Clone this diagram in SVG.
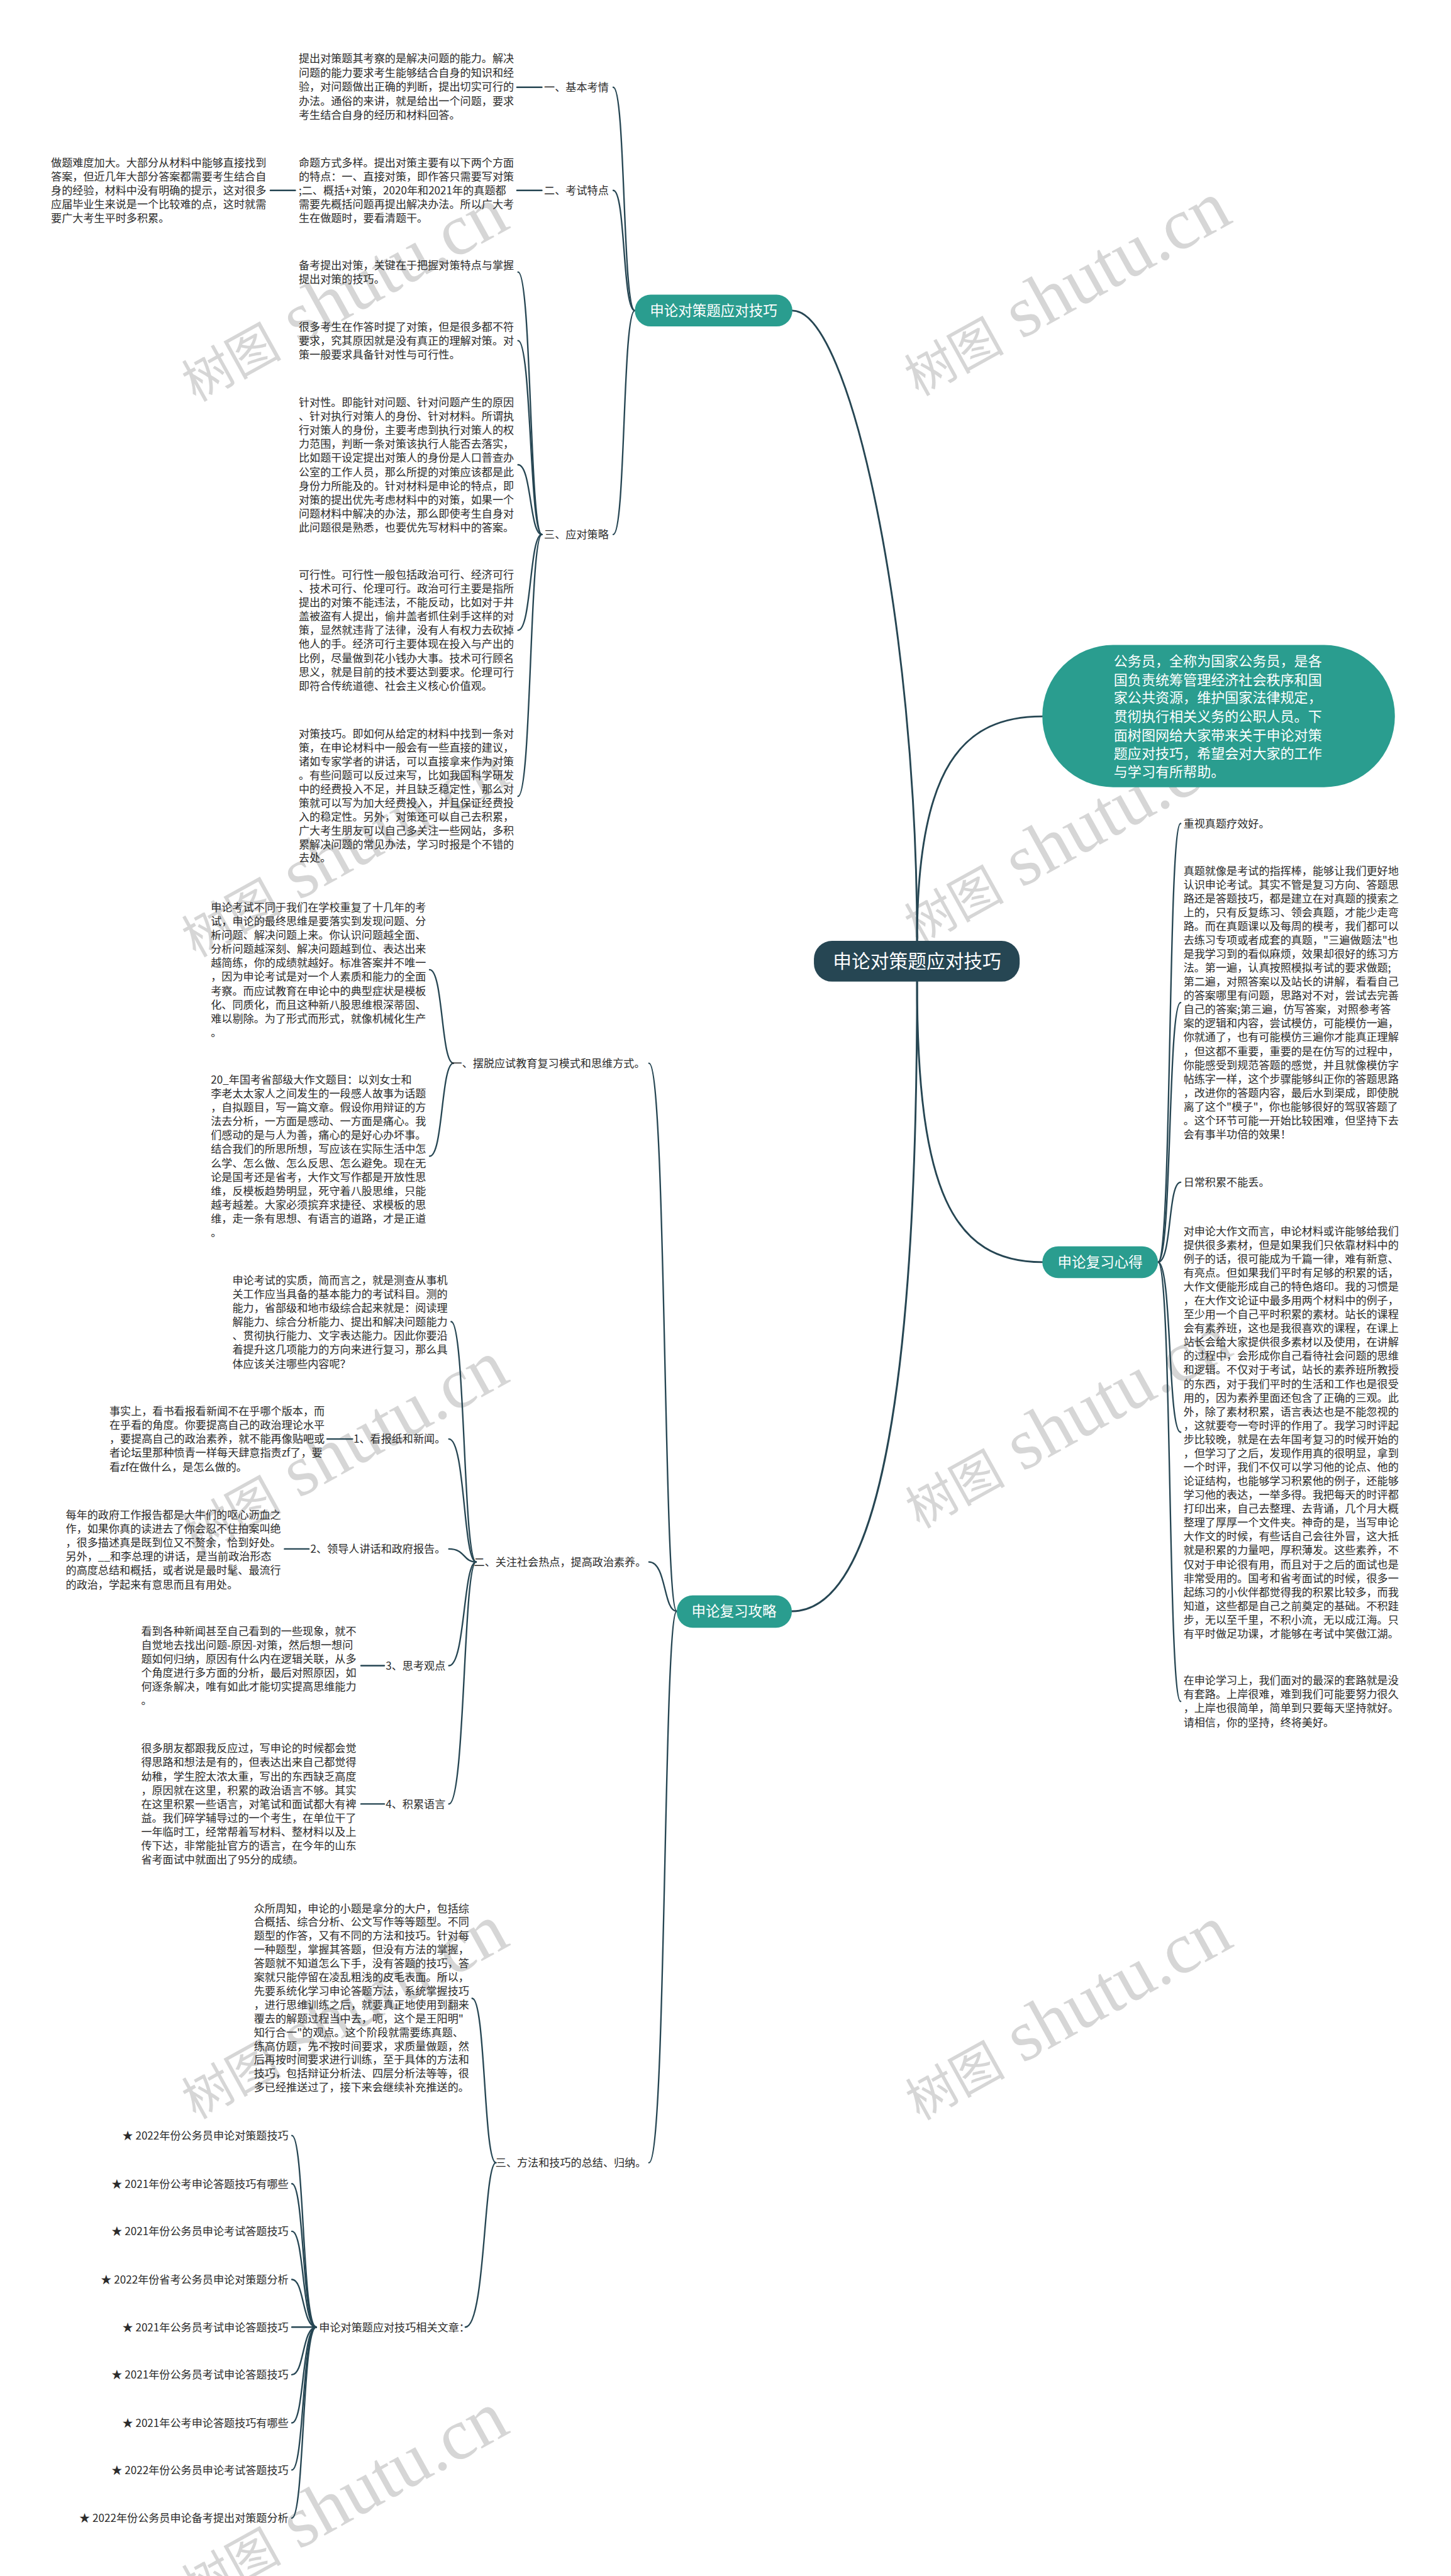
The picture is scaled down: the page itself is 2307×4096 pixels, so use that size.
<svg xmlns="http://www.w3.org/2000/svg" width="2307" height="4096" viewBox="0 0 2307 4096">
<style>
text{font-family:"Noto Sans CJK SC","Liberation Sans",sans-serif;}
.t{font-size:19px;fill:#2b2b2b;}
.e{text-anchor:end;}
.wm{font-family:"Liberation Serif","Noto Sans CJK SC",serif;fill:#d6d6d6;}
.wa{font-size:88px;}
.wb{font-size:128px;}
.m{fill:none;stroke:#264653;stroke-width:3.2;stroke-linecap:round;}
.c{fill:none;stroke:#264653;stroke-width:2.6;stroke-linecap:round;}
.teal{fill:#2a9d8f;}
.dark{fill:#264653;}
.nt{fill:#ffffff;text-anchor:middle;}
</style>
<rect width="2307" height="4096" fill="#ffffff"/>
<g transform="scale(0.90117)">
<g id="watermarks">
<text class="wm" transform="translate(345,710) rotate(-29)"><tspan class="wa">树图</tspan><tspan class="wb"> shutu.cn</tspan></text>
<text class="wm" transform="translate(345,1690) rotate(-29)"><tspan class="wa">树图</tspan><tspan class="wb"> shutu.cn</tspan></text>
<text class="wm" transform="translate(345,2745) rotate(-29)"><tspan class="wa">树图</tspan><tspan class="wb"> shutu.cn</tspan></text>
<text class="wm" transform="translate(345,3740) rotate(-29)"><tspan class="wa">树图</tspan><tspan class="wb"> shutu.cn</tspan></text>
<text class="wm" transform="translate(345,4600) rotate(-29)"><tspan class="wa">树图</tspan><tspan class="wb"> shutu.cn</tspan></text>
<text class="wm" transform="translate(1620,700) rotate(-29)"><tspan class="wa">树图</tspan><tspan class="wb"> shutu.cn</tspan></text>
<text class="wm" transform="translate(1620,1668) rotate(-29)"><tspan class="wa">树图</tspan><tspan class="wb"> shutu.cn</tspan></text>
<text class="wm" transform="translate(1622,2698) rotate(-29)"><tspan class="wa">树图</tspan><tspan class="wb"> shutu.cn</tspan></text>
<text class="wm" transform="translate(1622,3742) rotate(-29)"><tspan class="wa">树图</tspan><tspan class="wb"> shutu.cn</tspan></text>
</g>
<g id="connectors">
<path class="m" d="M1618,1660 C1618,1100 1500,548 1398,548"/>
<path class="m" d="M1618,1660 C1618,1350 1700,1264 1839,1264"/>
<path class="m" d="M1618,1732 C1618,2100 1680,2227 1839,2227"/>
<path class="m" d="M1618,1732 C1618,2500 1540,2843 1397,2843"/>
<path class="c" d="M1120,548 C1098,548 1104,154 1082,154"/>
<path class="c" d="M1120,548 C1098,548 1104,336 1082,336"/>
<path class="c" d="M1120,548 C1098,548 1104,943 1082,943"/>
<path class="c" d="M956,154 L912,154"/>
<path class="c" d="M956,336 L912,336"/>
<path class="c" d="M521,336 L477,336"/>
<path class="c" d="M956,943 C934,943 938,480 914,480"/>
<path class="c" d="M956,943 C934,943 938,601 914,601"/>
<path class="c" d="M956,943 C934,943 938,820 914,820"/>
<path class="c" d="M956,943 C934,943 938,1112 914,1112"/>
<path class="c" d="M956,943 C934,943 938,1405 914,1405"/>
<path class="c" d="M1194,2843 C1170,2843 1176,1876 1145,1876"/>
<path class="c" d="M1194,2843 C1170,2843 1176,2756 1145,2756"/>
<path class="c" d="M1194,2843 C1170,2843 1176,3816 1145,3816"/>
<path class="c" d="M800,1876 C778,1876 782,1711 758,1711"/>
<path class="c" d="M800,1876 C778,1876 782,2040 758,2040"/>
<path class="c" d="M840,2756 C817,2756 821,2332 796,2332"/>
<path class="c" d="M840,2756 C817,2756 821,2539 792,2539"/>
<path class="c" d="M840,2756 C817,2756 821,2733 792,2733"/>
<path class="c" d="M840,2756 C817,2756 821,2939 792,2939"/>
<path class="c" d="M840,2756 C817,2756 821,3183 792,3183"/>
<path class="c" d="M622,2539 L577,2539"/>
<path class="c" d="M545,2733 L502,2733"/>
<path class="c" d="M678,2939 L637,2939"/>
<path class="c" d="M678,3183 L637,3183"/>
<path class="c" d="M875,3816 C853,3816 857,3526 833,3526"/>
<path class="c" d="M875,3816 C853,3816 857,4106 821,4106"/>
<path class="c" d="M558,4106 C533,4106 537,3768 515,3768"/>
<path class="c" d="M558,4106 C533,4106 537,3853 515,3853"/>
<path class="c" d="M558,4106 C533,4106 537,3937 515,3937"/>
<path class="c" d="M558,4106 C533,4106 537,4022 515,4022"/>
<path class="c" d="M558,4106 L515,4106"/>
<path class="c" d="M558,4106 C533,4106 537,4190 515,4190"/>
<path class="c" d="M558,4106 C533,4106 537,4275 515,4275"/>
<path class="c" d="M558,4106 C533,4106 537,4358 515,4358"/>
<path class="c" d="M558,4106 C533,4106 537,4443 515,4443"/>
<path class="c" d="M2043,2227 C2068,2227 2060,1453 2083,1453"/>
<path class="c" d="M2043,2227 C2068,2227 2060,1769 2083,1769"/>
<path class="c" d="M2043,2227 C2068,2227 2060,2086 2083,2086"/>
<path class="c" d="M2043,2227 C2068,2227 2060,2527 2083,2527"/>
<path class="c" d="M2043,2227 C2068,2227 2060,3002 2083,3002"/>
</g>
<g id="root">
<rect class="dark" x="1436" y="1660" width="363" height="72" rx="32"/>
<text class="nt" x="1618" y="1708" font-size="33">申论对策题应对技巧</text>
</g>
<g id="intro">
<rect class="teal" x="1839" y="1138" width="622" height="251" rx="125"/>
<text font-size="24.5" fill="#ffffff">
<tspan x="1965" y="1175">公务员，全称为国家公务员，是各</tspan>
<tspan x="1965" y="1208">国负责统筹管理经济社会秩序和国</tspan>
<tspan x="1965" y="1240">家公共资源，维护国家法律规定，</tspan>
<tspan x="1965" y="1273">贯彻执行相关义务的公职人员。下</tspan>
<tspan x="1965" y="1306">面树图网给大家带来关于申论对策</tspan>
<tspan x="1965" y="1338">题应对技巧，希望会对大家的工作</tspan>
<tspan x="1965" y="1370">与学习有所帮助。</tspan>
</text>
</g>
<g id="branch-duice">
<rect class="teal" x="1120" y="520" width="278" height="56" rx="28"/>
<text class="nt" x="1259" y="557" font-size="25">申论对策题应对技巧</text>
</g>
<g id="branch-xinde">
<rect class="teal" x="1839" y="2199" width="204" height="56" rx="28"/>
<text class="nt" x="1941" y="2236" font-size="25">申论复习心得</text>
</g>
<g id="branch-gonglue">
<rect class="teal" x="1194" y="2815" width="203" height="57" rx="28"/>
<text class="nt" x="1295" y="2852" font-size="25">申论复习攻略</text>
</g>
<g id="lbl-jibenkaoqing"><text class="t" x="960" y="161">一、基本考情</text></g>
<g id="lbl-kaoshitedian"><text class="t" x="960" y="343">二、考试特点</text></g>
<g id="lbl-yingduicelue"><text class="t" x="960" y="950">三、应对策略</text></g>
<g id="txt-jiben">
<text class="t">
<tspan x="527" y="110">提出对策题其考察的是解决问题的能力。解决</tspan>
<tspan x="527" dy="25">问题的能力要求考生能够结合自身的知识和经</tspan>
<tspan x="527" dy="25">验，对问题做出正确的判断，提出切实可行的</tspan>
<tspan x="527" dy="25">办法。通俗的来讲，就是给出一个问题，要求</tspan>
<tspan x="527" dy="25">考生结合自身的经历和材料回答。</tspan>
</text>
</g>
<g id="txt-mingti">
<text class="t">
<tspan x="527" y="294">命题方式多样。提出对策主要有以下两个方面</tspan>
<tspan x="527" dy="24.3">的特点：一、直接对策，即作答只需要写对策</tspan>
<tspan x="527" dy="24.3">;二、概括+对策，2020年和2021年的真题都</tspan>
<tspan x="527" dy="24.3">需要先概括问题再提出解决办法。所以广大考</tspan>
<tspan x="527" dy="24.3">生在做题时，要看清题干。</tspan>
</text>
</g>
<g id="txt-nandu">
<text class="t">
<tspan x="90" y="294">做题难度加大。大部分从材料中能够直接找到</tspan>
<tspan x="90" dy="24.3">答案，但近几年大部分答案都需要考生结合自</tspan>
<tspan x="90" dy="24.3">身的经验，材料中没有明确的提示，这对很多</tspan>
<tspan x="90" dy="24.3">应届毕业生来说是一个比较难的点，这时就需</tspan>
<tspan x="90" dy="24.3">要广大考生平时多积累。</tspan>
</text>
</g>
<g id="txt-beikao">
<text class="t">
<tspan x="527" y="475">备考提出对策，关键在于把握对策特点与掌握</tspan>
<tspan x="527" dy="24.5">提出对策的技巧。</tspan>
</text>
</g>
<g id="txt-henduo">
<text class="t">
<tspan x="527" y="584">很多考生在作答时提了对策，但是很多都不符</tspan>
<tspan x="527" dy="24.5">要求，究其原因就是没有真正的理解对策。对</tspan>
<tspan x="527" dy="24.5">策一般要求具备针对性与可行性。</tspan>
</text>
</g>
<g id="txt-zhenduixing">
<text class="t">
<tspan x="527" y="717">针对性。即能针对问题、针对问题产生的原因</tspan>
<tspan x="527" dy="24.5">、针对执行对策人的身份、针对材料。所谓执</tspan>
<tspan x="527" dy="24.5">行对策人的身份，主要考虑到执行对策人的权</tspan>
<tspan x="527" dy="24.5">力范围，判断一条对策该执行人能否去落实，</tspan>
<tspan x="527" dy="24.5">比如题干设定提出对策人的身份是人口普查办</tspan>
<tspan x="527" dy="24.5">公室的工作人员，那么所提的对策应该都是此</tspan>
<tspan x="527" dy="24.5">身份力所能及的。针对材料是申论的特点，即</tspan>
<tspan x="527" dy="24.5">对策的提出优先考虑材料中的对策，如果一个</tspan>
<tspan x="527" dy="24.5">问题材料中解决的办法，那么即使考生自身对</tspan>
<tspan x="527" dy="24.5">此问题很是熟悉，也要优先写材料中的答案。</tspan>
</text>
</g>
<g id="txt-kexingxing">
<text class="t">
<tspan x="527" y="1021">可行性。可行性一般包括政治可行、经济可行</tspan>
<tspan x="527" dy="24.5">、技术可行、伦理可行。政治可行主要是指所</tspan>
<tspan x="527" dy="24.5">提出的对策不能违法，不能反动，比如对于井</tspan>
<tspan x="527" dy="24.5">盖被盗有人提出，偷井盖者抓住剁手这样的对</tspan>
<tspan x="527" dy="24.5">策，显然就违背了法律，没有人有权力去砍掉</tspan>
<tspan x="527" dy="24.5">他人的手。经济可行主要体现在投入与产出的</tspan>
<tspan x="527" dy="24.5">比例，尽量做到花小钱办大事。技术可行顾名</tspan>
<tspan x="527" dy="24.5">思义，就是目前的技术要达到要求。伦理可行</tspan>
<tspan x="527" dy="24.5">即符合传统道德、社会主义核心价值观。</tspan>
</text>
</g>
<g id="txt-jiqiao">
<text class="t">
<tspan x="527" y="1302">对策技巧。即如何从给定的材料中找到一条对</tspan>
<tspan x="527" dy="24.3">策，在申论材料中一般会有一些直接的建议，</tspan>
<tspan x="527" dy="24.3">诸如专家学者的讲话，可以直接拿来作为对策</tspan>
<tspan x="527" dy="24.3">。有些问题可以反过来写，比如我国科学研发</tspan>
<tspan x="527" dy="24.3">中的经费投入不足，并且缺乏稳定性，那么对</tspan>
<tspan x="527" dy="24.3">策就可以写为加大经费投入，并且保证经费投</tspan>
<tspan x="527" dy="24.3">入的稳定性。另外，对策还可以自己去积累，</tspan>
<tspan x="527" dy="24.3">广大考生朋友可以自己多关注一些网站，多积</tspan>
<tspan x="527" dy="24.3">累解决问题的常见办法，学习时报是个不错的</tspan>
<tspan x="527" dy="24.3">去处。</tspan>
</text>
</g>
<g id="lbl-baituo"><text class="t e" x="1138" y="1883">一、摆脱应试教育复习模式和思维方式。</text></g>
<g id="lbl-redian"><text class="t e" x="1140" y="2763">二、关注社会热点，提高政治素养。</text></g>
<g id="lbl-fangfa"><text class="t e" x="1140" y="3823">三、方法和技巧的总结、归纳。</text></g>
<g id="txt-butong">
<text class="t">
<tspan x="372" y="1608">申论考试不同于我们在学校重复了十几年的考</tspan>
<tspan x="372" dy="24.5">试，申论的最终思维是要落实到发现问题、分</tspan>
<tspan x="372" dy="24.5">析问题、解决问题上来。你认识问题越全面、</tspan>
<tspan x="372" dy="24.5">分析问题越深刻、解决问题越到位、表达出来</tspan>
<tspan x="372" dy="24.5">越简练，你的成绩就越好。标准答案并不唯一</tspan>
<tspan x="372" dy="24.5">，因为申论考试是对一个人素质和能力的全面</tspan>
<tspan x="372" dy="24.5">考察。而应试教育在申论中的典型症状是模板</tspan>
<tspan x="372" dy="24.5">化、同质化，而且这种新八股思维根深蒂固、</tspan>
<tspan x="372" dy="24.5">难以剔除。为了形式而形式，就像机械化生产</tspan>
<tspan x="372" dy="24.5">。</tspan>
</text>
</g>
<g id="txt-dazuowen">
<text class="t">
<tspan x="372" y="1912">20_年国考省部级大作文题目：以刘女士和</tspan>
<tspan x="372" dy="24.5">李老太太家人之间发生的一段感人故事为话题</tspan>
<tspan x="372" dy="24.5">，自拟题目，写一篇文章。假设你用辩证的方</tspan>
<tspan x="372" dy="24.5">法去分析，一方面是感动、一方面是痛心。我</tspan>
<tspan x="372" dy="24.5">们感动的是与人为善，痛心的是好心办坏事。</tspan>
<tspan x="372" dy="24.5">结合我们的所思所想，写应该在实际生活中怎</tspan>
<tspan x="372" dy="24.5">么学、怎么做、怎么反思、怎么避免。现在无</tspan>
<tspan x="372" dy="24.5">论是国考还是省考，大作文写作都是开放性思</tspan>
<tspan x="372" dy="24.5">维，反模板趋势明显，死守着八股思维，只能</tspan>
<tspan x="372" dy="24.5">越考越差。大家必须摈弃求捷径、求模板的思</tspan>
<tspan x="372" dy="24.5">维，走一条有思想、有语言的道路，才是正道</tspan>
<tspan x="372" dy="24.5">。</tspan>
</text>
</g>
<g id="txt-shizhi">
<text class="t">
<tspan x="410" y="2266">申论考试的实质，简而言之，就是测查从事机</tspan>
<tspan x="410" dy="24.5">关工作应当具备的基本能力的考试科目。测的</tspan>
<tspan x="410" dy="24.5">能力，省部级和地市级综合起来就是：阅读理</tspan>
<tspan x="410" dy="24.5">解能力、综合分析能力、提出和解决问题能力</tspan>
<tspan x="410" dy="24.5">、贯彻执行能力、文字表达能力。因此你要沿</tspan>
<tspan x="410" dy="24.5">着提升这几项能力的方向来进行复习，那么具</tspan>
<tspan x="410" dy="24.5">体应该关注哪些内容呢？</tspan>
</text>
</g>
<g id="lbl-baozhi"><text class="t e" x="786" y="2546">1、看报纸和新闻。</text></g>
<g id="txt-shishi">
<text class="t">
<tspan x="193" y="2497">事实上，看书看报看新闻不在乎哪个版本，而</tspan>
<tspan x="193" dy="24.5">在乎看的角度。你要提高自己的政治理论水平</tspan>
<tspan x="193" dy="24.5">，要提高自己的政治素养，就不能再像贴吧或</tspan>
<tspan x="193" dy="24.5">者论坛里那种愤青一样每天肆意指责zf了，要</tspan>
<tspan x="193" dy="24.5">看zf在做什么，是怎么做的。</tspan>
</text>
</g>
<g id="lbl-lingdao"><text class="t e" x="786" y="2740">2、领导人讲话和政府报告。</text></g>
<g id="txt-zhengfu">
<text class="t">
<tspan x="116" y="2680">每年的政府工作报告都是大牛们的呕心沥血之</tspan>
<tspan x="116" dy="24.5">作，如果你真的读进去了你会忍不住拍案叫绝</tspan>
<tspan x="116" dy="24.5">，很多描述真是既到位又不赘余，恰到好处。</tspan>
<tspan x="116" dy="24.5">另外，__和李总理的讲话，是当前政治形态</tspan>
<tspan x="116" dy="24.5">的高度总结和概括，或者说是最时髦、最流行</tspan>
<tspan x="116" dy="24.5">的政治，学起来有意思而且有用处。</tspan>
</text>
</g>
<g id="lbl-sikao"><text class="t e" x="786" y="2946">3、思考观点</text></g>
<g id="txt-kandao">
<text class="t">
<tspan x="249" y="2885">看到各种新闻甚至自己看到的一些现象，就不</tspan>
<tspan x="249" dy="24.5">自觉地去找出问题-原因-对策，然后想一想问</tspan>
<tspan x="249" dy="24.5">题如何归纳，原因有什么内在逻辑关联，从多</tspan>
<tspan x="249" dy="24.5">个角度进行多方面的分析，最后对照原因，如</tspan>
<tspan x="249" dy="24.5">何逐条解决，唯有如此才能切实提高思维能力</tspan>
<tspan x="249" dy="24.5">。</tspan>
</text>
</g>
<g id="lbl-yuyan"><text class="t e" x="786" y="3190">4、积累语言</text></g>
<g id="txt-pengyou">
<text class="t">
<tspan x="249" y="3092">很多朋友都跟我反应过，写申论的时候都会觉</tspan>
<tspan x="249" dy="24.5">得思路和想法是有的，但表达出来自己都觉得</tspan>
<tspan x="249" dy="24.5">幼稚，学生腔太浓太重，写出的东西缺乏高度</tspan>
<tspan x="249" dy="24.5">，原因就在这里，积累的政治语言不够。其实</tspan>
<tspan x="249" dy="24.5">在这里积累一些语言，对笔试和面试都大有裨</tspan>
<tspan x="249" dy="24.5">益。我们碎学辅导过的一个考生，在单位干了</tspan>
<tspan x="249" dy="24.5">一年临时工，经常帮着写材料、整材料以及上</tspan>
<tspan x="249" dy="24.5">传下达，非常能扯官方的语言，在今年的山东</tspan>
<tspan x="249" dy="24.5">省考面试中就面出了95分的成绩。</tspan>
</text>
</g>
<g id="txt-zhongsuo">
<text class="t">
<tspan x="448" y="3374">众所周知，申论的小题是拿分的大户，包括综</tspan>
<tspan x="448" dy="24.3">合概括、综合分析、公文写作等等题型。不同</tspan>
<tspan x="448" dy="24.3">题型的作答，又有不同的方法和技巧。针对每</tspan>
<tspan x="448" dy="24.3">一种题型，掌握其答题，但没有方法的掌握，</tspan>
<tspan x="448" dy="24.3">答题就不知道怎么下手，没有答题的技巧，答</tspan>
<tspan x="448" dy="24.3">案就只能停留在凌乱粗浅的皮毛表面。所以，</tspan>
<tspan x="448" dy="24.3">先要系统化学习申论答题方法，系统掌握技巧</tspan>
<tspan x="448" dy="24.3">，进行思维训练之后，就要真正地使用到翻来</tspan>
<tspan x="448" dy="24.3">覆去的解题过程当中去，呃，这个是王阳明"</tspan>
<tspan x="448" dy="24.3">知行合一"的观点。这个阶段就需要练真题、</tspan>
<tspan x="448" dy="24.3">练高仿题，先不按时间要求，求质量做题，然</tspan>
<tspan x="448" dy="24.3">后再按时间要求进行训练，至于具体的方法和</tspan>
<tspan x="448" dy="24.3">技巧，包括辩证分析法、四层分析法等等，很</tspan>
<tspan x="448" dy="24.3">多已经推送过了，接下来会继续补充推送的。</tspan>
</text>
</g>
<g id="lbl-xiangguan"><text class="t" x="563" y="4113">申论对策题应对技巧相关文章：</text></g>
<g id="links">
<text class="t e" x="509" y="3775">★ 2022年份公务员申论对策题技巧</text>
<text class="t e" x="509" y="3860">★ 2021年份公考申论答题技巧有哪些</text>
<text class="t e" x="509" y="3944">★ 2021年份公务员申论考试答题技巧</text>
<text class="t e" x="509" y="4029">★ 2022年份省考公务员申论对策题分析</text>
<text class="t e" x="509" y="4113">★ 2021年公务员考试申论答题技巧</text>
<text class="t e" x="509" y="4197">★ 2021年份公务员考试申论答题技巧</text>
<text class="t e" x="509" y="4282">★ 2021年公考申论答题技巧有哪些</text>
<text class="t e" x="509" y="4365">★ 2022年份公务员申论考试答题技巧</text>
<text class="t e" x="509" y="4450">★ 2022年份公务员申论备考提出对策题分析</text>
</g>
<g id="txt-zhongshi"><text class="t" x="2088" y="1460">重视真题疗效好。</text></g>
<g id="txt-zhenti">
<text class="t">
<tspan x="2088" y="1543">真题就像是考试的指挥棒，能够让我们更好地</tspan>
<tspan x="2088" dy="24.5">认识申论考试。其实不管是复习方向、答题思</tspan>
<tspan x="2088" dy="24.5">路还是答题技巧，都是建立在对真题的摸索之</tspan>
<tspan x="2088" dy="24.5">上的，只有反复练习、领会真题，才能少走弯</tspan>
<tspan x="2088" dy="24.5">路。而在真题课以及每周的模考，我们都可以</tspan>
<tspan x="2088" dy="24.5">去练习专项或者成套的真题，"三遍做题法"也</tspan>
<tspan x="2088" dy="24.5">是我学习到的看似麻烦，效果却很好的练习方</tspan>
<tspan x="2088" dy="24.5">法。第一遍，认真按照模拟考试的要求做题;</tspan>
<tspan x="2088" dy="24.5">第二遍，对照答案以及站长的讲解，看看自己</tspan>
<tspan x="2088" dy="24.5">的答案哪里有问题，思路对不对，尝试去完善</tspan>
<tspan x="2088" dy="24.5">自己的答案;第三遍，仿写答案，对照参考答</tspan>
<tspan x="2088" dy="24.5">案的逻辑和内容，尝试模仿，可能模仿一遍，</tspan>
<tspan x="2088" dy="24.5">你就通了，也有可能模仿三遍你才能真正理解</tspan>
<tspan x="2088" dy="24.5">，但这都不重要，重要的是在仿写的过程中，</tspan>
<tspan x="2088" dy="24.5">你能感受到规范答题的感觉，并且就像模仿字</tspan>
<tspan x="2088" dy="24.5">帖练字一样，这个步骤能够纠正你的答题思路</tspan>
<tspan x="2088" dy="24.5">，改进你的答题内容，最后水到渠成，即使脱</tspan>
<tspan x="2088" dy="24.5">离了这个"模子"，你也能够很好的驾驭答题了</tspan>
<tspan x="2088" dy="24.5">。这个环节可能一开始比较困难，但坚持下去</tspan>
<tspan x="2088" dy="24.5">会有事半功倍的效果！</tspan>
</text>
</g>
<g id="txt-richang"><text class="t" x="2088" y="2093">日常积累不能丢。</text></g>
<g id="txt-dazuowen2">
<text class="t">
<tspan x="2088" y="2179">对申论大作文而言，申论材料或许能够给我们</tspan>
<tspan x="2088" dy="24.5">提供很多素材，但是如果我们只依靠材料中的</tspan>
<tspan x="2088" dy="24.5">例子的话，很可能成为千篇一律，难有新意、</tspan>
<tspan x="2088" dy="24.5">有亮点。但如果我们平时有足够的积累的话，</tspan>
<tspan x="2088" dy="24.5">大作文便能形成自己的特色烙印。我的习惯是</tspan>
<tspan x="2088" dy="24.5">，在大作文论证中最多用两个材料中的例子，</tspan>
<tspan x="2088" dy="24.5">至少用一个自己平时积累的素材。站长的课程</tspan>
<tspan x="2088" dy="24.5">会有素养班，这也是我很喜欢的课程，在课上</tspan>
<tspan x="2088" dy="24.5">站长会给大家提供很多素材以及使用，在讲解</tspan>
<tspan x="2088" dy="24.5">的过程中，会形成你自己看待社会问题的思维</tspan>
<tspan x="2088" dy="24.5">和逻辑。不仅对于考试，站长的素养班所教授</tspan>
<tspan x="2088" dy="24.5">的东西，对于我们平时的生活和工作也是很受</tspan>
<tspan x="2088" dy="24.5">用的，因为素养里面还包含了正确的三观。此</tspan>
<tspan x="2088" dy="24.5">外，除了素材积累，语言表达也是不能忽视的</tspan>
<tspan x="2088" dy="24.5">，这就要夸一夸时评的作用了。我学习时评起</tspan>
<tspan x="2088" dy="24.5">步比较晚，就是在去年国考复习的时候开始的</tspan>
<tspan x="2088" dy="24.5">，但学习了之后，发现作用真的很明显，拿到</tspan>
<tspan x="2088" dy="24.5">一个时评，我们不仅可以学习他的论点、他的</tspan>
<tspan x="2088" dy="24.5">论证结构，也能够学习积累他的例子，还能够</tspan>
<tspan x="2088" dy="24.5">学习他的表达，一举多得。我把每天的时评都</tspan>
<tspan x="2088" dy="24.5">打印出来，自己去整理、去背诵，几个月大概</tspan>
<tspan x="2088" dy="24.5">整理了厚厚一个文件夹。神奇的是，当写申论</tspan>
<tspan x="2088" dy="24.5">大作文的时候，有些话自己会往外冒，这大抵</tspan>
<tspan x="2088" dy="24.5">就是积累的力量吧，厚积薄发。这些素养，不</tspan>
<tspan x="2088" dy="24.5">仅对于申论很有用，而且对于之后的面试也是</tspan>
<tspan x="2088" dy="24.5">非常受用的。国考和省考面试的时候，很多一</tspan>
<tspan x="2088" dy="24.5">起练习的小伙伴都觉得我的积累比较多，而我</tspan>
<tspan x="2088" dy="24.5">知道，这些都是自己之前奠定的基础。不积跬</tspan>
<tspan x="2088" dy="24.5">步，无以至千里，不积小流，无以成江海。只</tspan>
<tspan x="2088" dy="24.5">有平时做足功课，才能够在考试中笑傲江湖。</tspan>
</text>
</g>
<g id="txt-taolu">
<text class="t">
<tspan x="2088" y="2972">在申论学习上，我们面对的最深的套路就是没</tspan>
<tspan x="2088" dy="24.5">有套路。上岸很难，难到我们可能要努力很久</tspan>
<tspan x="2088" dy="24.5">，上岸也很简单，简单到只要每天坚持就好。</tspan>
<tspan x="2088" dy="24.5">请相信，你的坚持，终将美好。</tspan>
</text>
</g>
</g>
</svg>
